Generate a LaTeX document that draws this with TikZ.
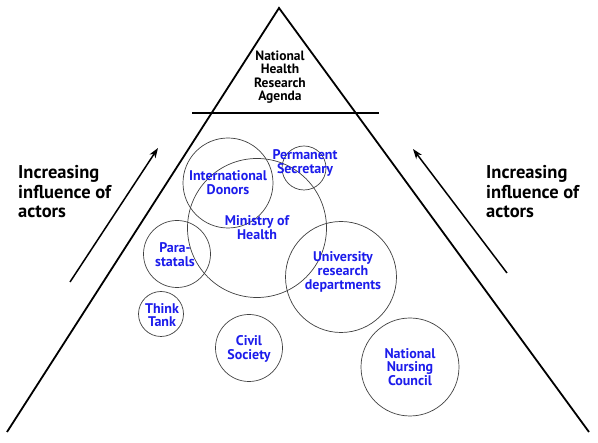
\documentclass[tikz,border=0pt]{standalone}
\usepackage{fontspec}
\setmainfont{PT Sans}
\usepackage[x11names, rgb]{xcolor}
\usepackage{tikz}
\usetikzlibrary{arrows,arrows.meta,shapes,calc}

\definecolor{actorblue}{RGB}{28,28,235}

\begin{document}
\begin{tikzpicture}[x=1pt,y=-1pt]
\tikzset{
	actor circle/.style = {circle, draw = black!75, line width = 0.7pt, inner sep = 0, minimum size = #1},
	actor label/.style = {align = center, text = actorblue, font = \bfseries\fontsize{14}{13.8}\selectfont, inner sep = 0},
	side label/.style = {align = left, anchor = west, font = \bfseries\fontsize{18.5}{19.5}\selectfont, inner sep = 0},
	top label/.style = {align = center, font = \bfseries\fontsize{13.5}{13.3}\selectfont, inner sep = 0},
	pyramid line/.style = {line width = 1.8pt},
	influence arrow/.style = {line width = 1.5pt, -{Stealth[length = 10pt, width = 7pt, inset = 3pt]}},
}

\useasboundingbox (0,0) rectangle (598,443);

\coordinate (apex) at (279,8);
\coordinate (base left) at (7,432);
\coordinate (base right) at (589,432);
\draw [pyramid line] (base left) -- (apex) -- (base right);

\coordinate (cut left) at (192,113);
\coordinate (cut right) at (379,113);
\draw [line width = 1.5pt] (cut left) -- (cut right);

\node (agenda)[top label] at (280,77) {National\\Health\\Research\\Agenda};

\node (donors)[actor circle = 90] at (228,183) {};
\node (moh)[actor circle = 139] at (257,228) {};
\node (psec)[actor circle = 44] at (304,168) {};
\node (univ)[actor circle = 111] at (341,277) {};
\node (para)[actor circle = 67] at (177,254) {};
\node (think)[actor circle = 45] at (161,314) {};
\node (civil)[actor circle = 67] at (249,348) {};
\node (nurse)[actor circle = 98] at (410,367) {};

\node (donors text)[actor label] at (donors) {International\\Donors};
\node (moh text)[actor label] at (moh) {Ministry of\\Health};
\node (psec text)[actor label] at ($(psec)+(1,-5)$) {Permanent\\Secretary};
\node (univ text)[actor label] at ($(univ)+(2,-5)$) {University\\research\\departments};
\node (para text)[actor label] at ($(para)+(-2,1)$) {Para-\\statals};
\node (think text)[actor label] at ($(think)+(1,1)$) {Think\\Tank};
\node (civil text)[actor label] at ($(civil)+(0,1)$) {Civil\\Society};
\node (nurse text)[actor label] at (nurse) {National\\Nursing\\Council};

\coordinate (left tail) at (70,282);
\coordinate (left head) at (158,148);
\coordinate (right tail) at (507,273);
\coordinate (right head) at (413,149);
\draw [influence arrow] (left tail) -- (left head);
\draw [influence arrow] (right tail) -- (right head);

\node (left text)[side label] at (18,192) {Increasing\\influence of\\actors};
\node (right text)[side label] at (486,192) {Increasing\\influence of\\actors};

\end{tikzpicture}
\end{document}
